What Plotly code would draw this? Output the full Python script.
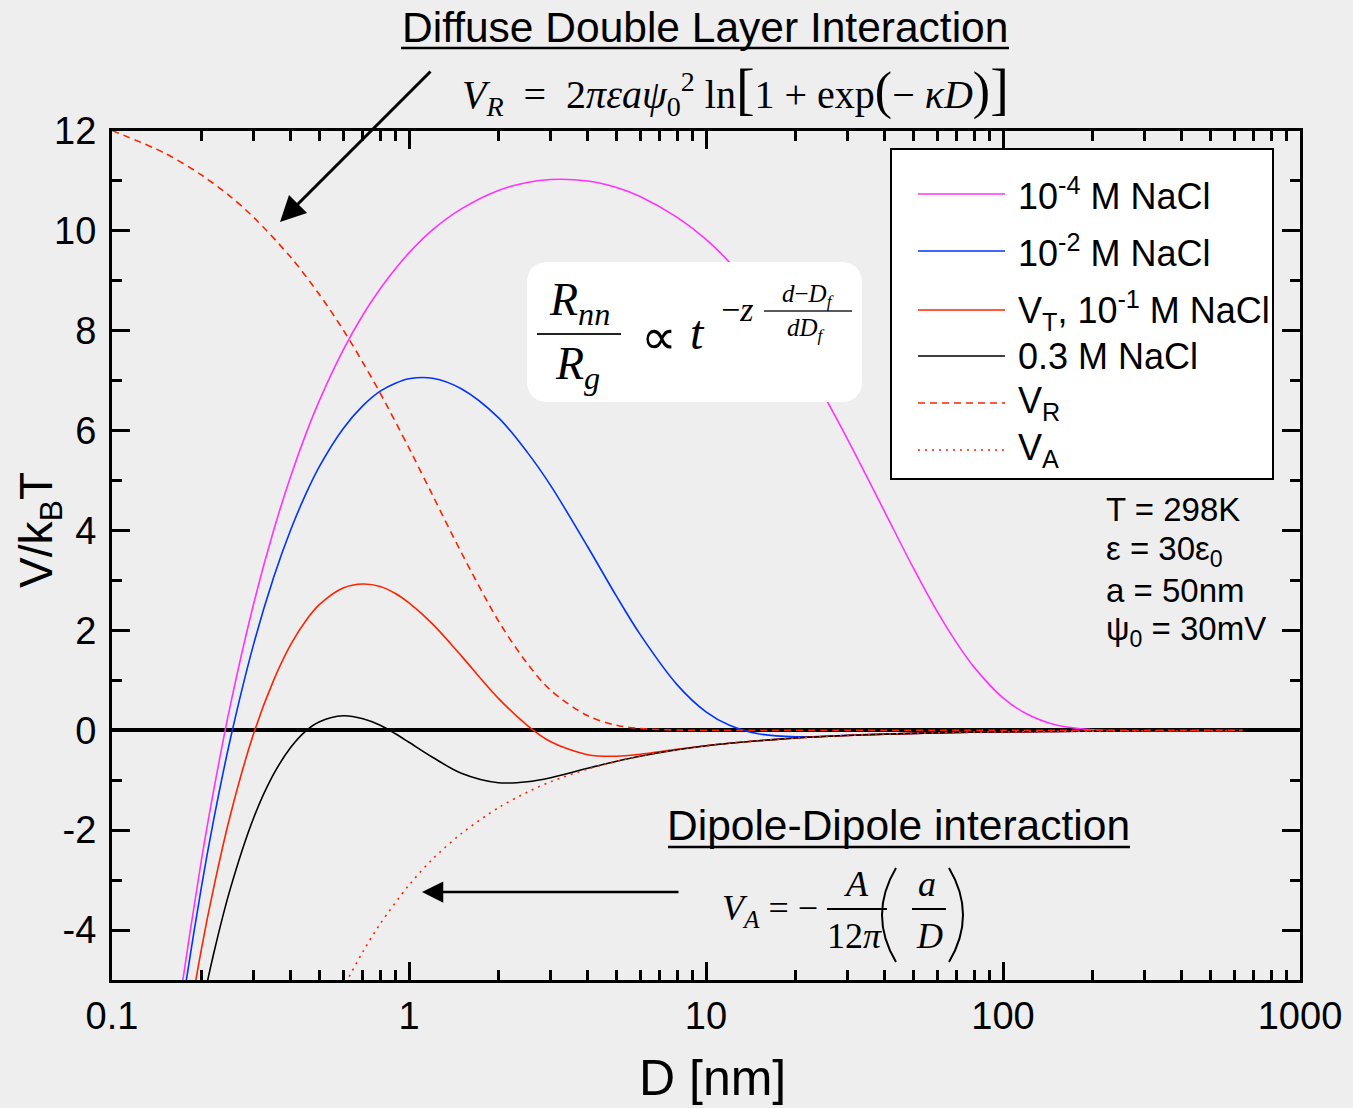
import plotly.graph_objects as go

# ---------------- data ----------------
D = [0.15, 0.17, 0.2, 0.22, 0.25, 0.3, 0.35, 0.4, 0.45, 0.5, 0.6, 0.7, 0.8, 0.9, 1.0, 1.2, 1.5,
     2, 2.5, 3, 4, 5, 6, 8, 10, 12, 15, 20, 25, 30, 40, 50, 60, 70, 80, 100, 120, 150, 200, 300,
     640]

V_1e4 = [-7.75, -5.33, -2.60, -1.20, 0.49, 2.54, 4.00, 5.09, 5.94, 6.61, 7.61, 8.32, 8.84, 9.24,
         9.56, 10.02, 10.44, 10.81, 10.97, 11.03, 11.00, 10.87, 10.69, 10.27, 9.83, 9.37, 8.70,
         7.65, 6.69, 5.82, 4.37, 3.24, 2.38, 1.74, 1.26, 0.65, 0.33, 0.11, 0.01, -0.01, -0.005]

V_1e2 = [-8.16, -5.79, -3.14, -1.79, -0.19, 1.73, 3.06, 4.02, 4.74, 5.29, 6.04, 6.50, 6.79, 6.95,
         7.04, 7.05, 6.84, 6.26, 5.57, 4.90, 3.67, 2.68, 1.92, 0.91, 0.37, 0.10, -0.07, -0.13,
         -0.119, -0.10, -0.077, -0.062, -0.052, -0.044, -0.039, -0.031, -0.026, -0.021, -0.016,
         -0.010, -0.005]

V_1e1 = [-9.11, -6.86, -4.38, -3.15, -1.71, -0.06, 1.00, 1.72, 2.20, 2.52, 2.85, 2.93, 2.88, 2.74,
         2.55, 2.13, 1.49, 0.64, 0.10, -0.23, -0.49, -0.52, -0.48, -0.38, -0.31, -0.26, -0.21,
         -0.155, -0.124, -0.103, -0.078, -0.062, -0.052, -0.044, -0.039, -0.031, -0.026, -0.021,
         -0.016, -0.010, -0.005]

V_03 = [-10.07, -7.92, -5.61, -4.47, -3.18, -1.75, -0.88, -0.34, -0.01, 0.17, 0.29, 0.23, 0.10,
        -0.07, -0.24, -0.54, -0.86, -1.05, -1.03, -0.95, -0.76, -0.62, -0.52, -0.39, -0.31,
        -0.26, -0.21, -0.155, -0.124, -0.103, -0.078, -0.062, -0.052, -0.044, -0.039, -0.031,
        -0.026, -0.021, -0.016, -0.010, -0.005]

D_R = [0.1, 0.15, 0.2, 0.25, 0.3, 0.4, 0.5, 0.6, 0.7, 0.8, 1.0, 1.2, 1.5, 2, 2.5, 3, 4, 5, 6, 8,
       10, 15, 30, 100, 640]
V_R = [12.01, 11.56, 11.12, 10.69, 10.27, 9.47, 8.72, 8.02, 7.36, 6.75, 5.65, 4.71, 3.56, 2.19,
       1.34, 0.80, 0.29, 0.10, 0.036, 0.005, 0.001, 0.0, 0.0, 0.0, 0.0]

D_A = [0.5, 0.6, 0.7, 0.8, 1.0, 1.2, 1.5, 2, 2.5, 3, 4, 5, 6, 8, 10, 12, 15, 20, 25, 30, 40, 50,
       60, 70, 80, 100, 120, 150, 200, 300, 640]
V_A = [-6.2, -5.17, -4.43, -3.875, -3.1, -2.58, -2.07, -1.55, -1.24, -1.03, -0.775, -0.62, -0.517,
       -0.388, -0.31, -0.258, -0.207, -0.155, -0.124, -0.103, -0.078, -0.062, -0.052, -0.044,
       -0.039, -0.031, -0.026, -0.021, -0.016, -0.010, -0.005]

x_tick_vals = [0.1, 1, 10, 100, 1000]
x_tick_text = ["0.1", "1", "10", "100", "1000"]
x_minor_vals = [m * 10 ** e for e in (-1, 0, 1, 2) for m in range(2, 10)]
y_tick_vals = [-4, -2, 0, 2, 4, 6, 8, 10, 12]
y_tick_text = ["-4", "-2", "0", "2", "4", "6", "8", "10", "12"]
y_minor_vals = [-3, -1, 1, 3, 5, 7, 9, 11]

legend_labels = ["10<sup>-4</sup> M NaCl", "10<sup>-2</sup> M NaCl",
                 "V<sub>T</sub>, 10<sup>-1</sup> M NaCl", "0.3 M NaCl",
                 "V<sub>R</sub>", "V<sub>A</sub>"]
param_lines = ["T = 298K", "ε = 30ε<sub>0</sub>", "a = 50nm", "ψ<sub>0</sub> = 30mV"]

# ---------------- styling ----------------
W, H = 1353, 1108
L, R, T, B = 112, 53, 131, 128
PW, PH = W - L - R, H - T - B
BG = "#eeeeee"
SANS = "Liberation Sans, Arial, sans-serif"
SERIF = "Liberation Serif, Times New Roman, serif"

MAG, BLUE, RED, BLK = "#ff33ff", "#0033ff", "#ff2200", "#000000"


def px(x):
    return (x - L) / PW


def py(y):
    return (H - B - y) / PH


def text(t, x, y, size, family=SANS, xa="center", ya="middle", angle=0):
    return dict(text=t, xref="paper", yref="paper", x=px(x), y=py(y), xanchor=xa,
                yanchor=ya, showarrow=False, textangle=angle,
                font=dict(family=family, size=size, color="black"))


def hline(x0, x1, y, w, color="black", dash="solid"):
    return dict(type="line", xref="paper", yref="paper", x0=px(x0), x1=px(x1), y0=py(y),
                y1=py(y), line=dict(color=color, width=w, dash=dash), layer="above")


def paren(xe, xm, y0, y1, w=2):
    return dict(type="path", xref="paper", yref="paper", layer="above",
                path=f"M {px(xe)},{py(y0)} Q {px(xm)},{py((y0 + y1) / 2)} {px(xe)},{py(y1)}",
                line=dict(color="black", width=w))


fig = go.Figure()
series = [
    (D, V_1e4, MAG, "solid", legend_labels[0]),
    (D, V_1e2, BLUE, "solid", legend_labels[1]),
    (D, V_1e1, RED, "solid", legend_labels[2]),
    (D, V_03, BLK, "solid", legend_labels[3]),
    (D_R, V_R, RED, "7px,5px", legend_labels[4]),
    (D_A, V_A, RED, "2px,5px", legend_labels[5]),
]
for xs, ys, col, dash, name in series:
    fig.add_trace(go.Scatter(x=xs, y=ys, mode="lines", name=name, showlegend=False,
                             line=dict(color=col, width=1.6, dash=dash, shape="spline",
                                       smoothing=0.9)))

annotations = []
shapes = []

# manual legend
shapes.append(dict(type="rect", xref="paper", yref="paper", x0=px(891), x1=px(1273),
                   y0=py(479), y1=py(149), fillcolor="white",
                   line=dict(color="black", width=2), layer="above"))
leg_y = [194, 251, 310, 356, 403, 450]
for (xs, ys, col, dash, name), yy in zip(series, leg_y):
    shapes.append(hline(918, 1005, yy, 1.6, col, dash))
    annotations.append(text(name, 1016, yy, 36, xa="left"))

# parameters
for t, yy in zip(param_lines, [510, 551, 590, 631]):
    annotations.append(text(t, 1104, yy, 33, xa="left"))

# titles with underline
annotations.append(text("Diffuse Double Layer Interaction", 705, 27, 42.5))
shapes.append(hline(401, 1009, 48, 2.5))
annotations.append(text("Dipole-Dipole interaction", 898, 825, 42.5))
shapes.append(hline(668, 1130, 847, 2.5))

# axis titles
annotations.append(text("D [nm]", 712, 1078, 50))
annotations.append(text("V/k<sub>B</sub>T", 39, 530, 46, angle=-90))

# V_R formula
annotations.append(text(
    "<i>V</i><sub><i>R</i></sub>  =  2<i>πεaψ</i><sub>0</sub><sup>2</sup> ln"
    "<span style='font-size:56px'>[</span>1 + exp<span style='font-size:52px'>(</span>− "
    "<i>κD</i><span style='font-size:52px'>)</span><span style='font-size:56px'>]</span>",
    460, 90, 40, family=SERIF, xa="left"))

# arrows
annotations.append(dict(text="", xref="paper", yref="paper", x=px(280), y=py(222),
                        ax=152, ay=-152, showarrow=True, arrowhead=2, arrowsize=1.7,
                        arrowwidth=3, arrowcolor="black"))
annotations.append(dict(text="", xref="paper", yref="paper", x=px(422), y=py(892),
                        ax=258, ay=0, showarrow=True, arrowhead=2, arrowsize=1.7,
                        arrowwidth=2.5, arrowcolor="black"))

# V_A formula
annotations.append(text("<i>V</i><sub><i>A</i></sub> = −", 720, 910, 36, SERIF, xa="left"))
annotations.append(text("<i>A</i>", 856, 884, 36, SERIF))
annotations.append(text("12<i>π</i>", 854, 936, 36, SERIF))
annotations.append(text("<i>a</i>", 927, 884, 36, SERIF))
annotations.append(text("<i>D</i>", 929, 936, 36, SERIF))
shapes.append(paren(896, 868, 868, 962))
shapes.append(paren(949, 977, 868, 962))
shapes.append(hline(827, 887, 909, 2))
shapes.append(hline(912, 946, 909, 2))

# R_nn / R_g box
r = 22
x0b, x1b, y0b, y1b = px(527), px(862), py(402), py(262)
rx, ry = r / PW, r / PH
path = (f"M {x0b+rx},{y0b} L {x1b-rx},{y0b} Q {x1b},{y0b} {x1b},{y0b+ry} "
        f"L {x1b},{y1b-ry} Q {x1b},{y1b} {x1b-rx},{y1b} L {x0b+rx},{y1b} "
        f"Q {x0b},{y1b} {x0b},{y1b-ry} L {x0b},{y0b+ry} Q {x0b},{y0b} {x0b+rx},{y0b} Z")
shapes.append(dict(type="path", xref="paper", yref="paper", path=path, fillcolor="white",
                   line=dict(width=0), layer="above"))
shapes.append(hline(537, 621, 334, 2, "#222222"))
shapes.append(hline(764, 852, 311, 1.5, "#222222"))
for t, x, y, s in [("<i>R</i><sub><i>nn</i></sub>", 579, 303, 46),
                   ("<i>R</i><sub><i>g</i></sub>", 577, 367, 46),
                   ("∝", 659, 337, 50),
                   ("<i>t</i>", 697, 332, 48),
                   ("−<i>z</i>", 737, 309, 34),
                   ("<i>d</i>−<i>D</i><sub><i>f</i></sub>", 808, 295, 25),
                   ("<i>dD</i><sub><i>f</i></sub>", 806, 329, 25)]:
    annotations.append(text(t, x, y, s, SERIF))

axis_common = dict(showline=True, linecolor="black", linewidth=3, mirror="allticks",
                   ticks="inside", ticklen=18, tickwidth=3, tickcolor="black",
                   tickmode="array", tickfont=dict(family=SANS, size=38, color="black"),
                   showgrid=False, automargin=False)

fig.update_layout(
    template="none",
    width=W, height=H, margin=dict(l=L, r=R, t=T, b=B, pad=0, autoexpand=False),
    paper_bgcolor=BG, plot_bgcolor=BG, showlegend=False,
    annotations=annotations, shapes=shapes,
    xaxis=dict(type="log", range=[-1, 3], tickvals=x_tick_vals, ticktext=x_tick_text,
               ticklabelstandoff=0, zeroline=False,
               minor=dict(ticks="inside", ticklen=10, tickwidth=3, tickcolor="black",
                          tickmode="array", tickvals=x_minor_vals, showgrid=False),
               **axis_common),
    yaxis=dict(range=[-5, 12], tickvals=y_tick_vals, ticktext=y_tick_text,
               ticklabelstandoff=5, zeroline=True, zerolinecolor="black", zerolinewidth=3.5,
               minor=dict(ticks="inside", ticklen=10, tickwidth=3, tickcolor="black",
                          tickmode="array", tickvals=y_minor_vals, showgrid=False),
               **axis_common),
)

fig.write_html("out.html")
